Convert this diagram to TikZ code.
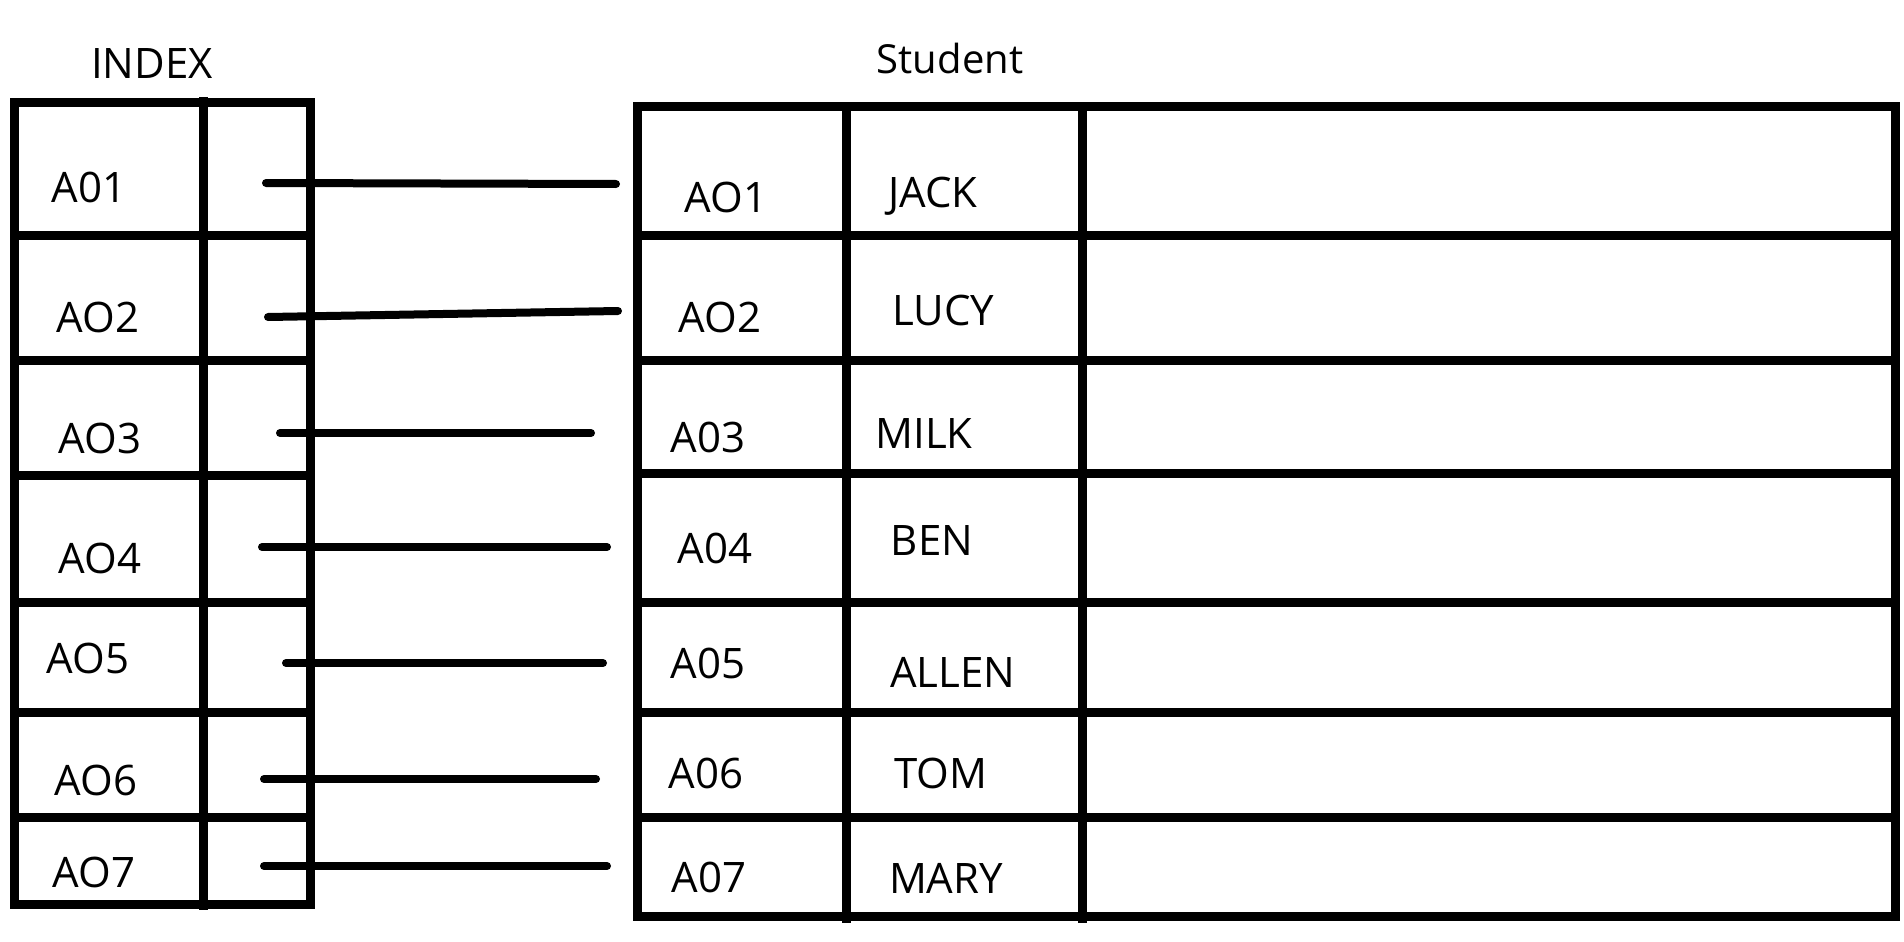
\documentclass[tikz,border=0pt]{standalone}
\usepackage{fontspec}
\setmainfont{Open Sans}
\begin{document}
\begin{tikzpicture}[x=1pt,y=-1pt,line width=9pt]
        \useasboundingbox (0,0) rectangle (1904,942);

        % index table
        \draw (14,102) rectangle (310,904);
        \draw (203,97) -- (203,910);
        \draw (14,235) -- (310,235) (14,360) -- (310,360) (14,475) -- (310,475)
              (14,602) -- (310,602) (14,712) -- (310,712) (14,817) -- (310,817);

        % student table
        \draw (637,106) rectangle (1895,916);
        \draw (846,106) -- (846,923) (1082,106) -- (1082,923);
        \draw (637,235) -- (1895,235) (637,360) -- (1895,360) (637,473) -- (1895,473)
              (637,602) -- (1895,602) (637,712) -- (1895,712) (637,817) -- (1895,817);

        \begin{scope}[every node/.style={anchor=base,inner sep=0pt,font=\fontsize{42}{50}\selectfont}]
          \node (index)   at (152,78)  {INDEX};
          \node[font=\fontsize{40}{48}\selectfont] (student) at (950,74) {Student};

          \node (i1) at (89,202)  {A01};
          \node (i2) at (98,332)  {AO2};
          \node (i3) at (100,453) {AO3};
          \node (i4) at (100,573) {AO4};
          \node (i5) at (88,673)  {AO5};
          \node (i6) at (96,795)  {AO6};
          \node (i7) at (94,887)  {AO7};

          \node (s1) at (726,212) {AO1};
          \node (s2) at (720,332) {AO2};
          \node (s3) at (708,452) {A03};
          \node (s4) at (715,563) {A04};
          \node (s5) at (708,678) {A05};
          \node (s6) at (706,788) {A06};
          \node (s7) at (709,892) {A07};

          \node (n1) at (933,207) {JACK};
          \node (n2) at (943,325) {LUCY};
          \node (n3) at (924,448) {MILK};
          \node (n4) at (932,555) {BEN};
          \node (n5) at (953,687) {ALLEN};
          \node (n6) at (941,788) {TOM};
          \node (n7) at (946,893) {MARY};
        \end{scope}

        \coordinate (p1) at (266,183);
        \coordinate (p2) at (268,317);
        \coordinate (p3) at (280,433);
        \coordinate (p4) at (262,547);
        \coordinate (p5) at (286,663);
        \coordinate (p6) at (264,779);
        \coordinate (p7) at (264,866);

        \coordinate (q1) at (616,184);
        \coordinate (q2) at (618,311);
        \coordinate (q3) at (591,433);
        \coordinate (q4) at (607,547);
        \coordinate (q5) at (603,663);
        \coordinate (q6) at (596,779);
        \coordinate (q7) at (607,866);

        \begin{scope}[every edge/.style={draw,line width=8pt,line cap=round}]
          \path (p1) edge (q1);
          \path (p2) edge (q2);
          \path (p3) edge (q3);
          \path (p4) edge (q4);
          \path (p5) edge (q5);
          \path (p6) edge (q6);
          \path (p7) edge (q7);
        \end{scope}

      \end{tikzpicture}
\end{document}
